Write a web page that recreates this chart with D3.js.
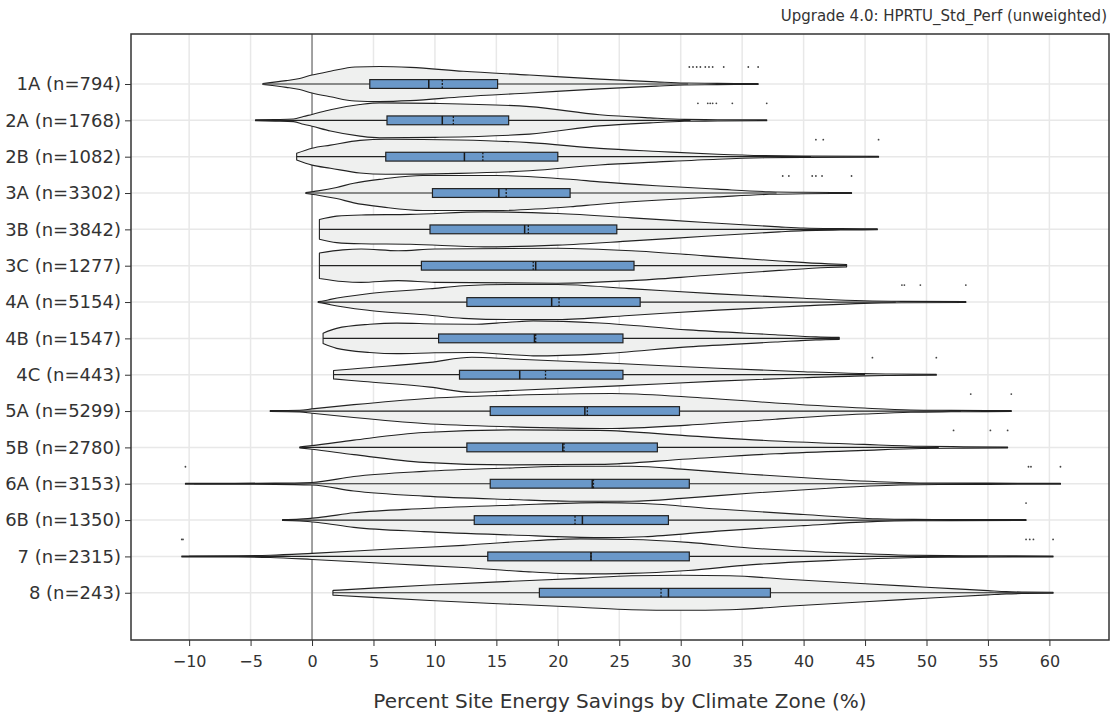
<!DOCTYPE html>
<html>
<head>
<meta charset="utf-8">
<script src="https://cdn.jsdelivr.net/npm/d3@7"></script>
<style>
  html, body { margin: 0; padding: 0; background: #fff; }
  svg { display: block; font-family: "DejaVu Sans", Verdana, sans-serif; }
</style>
</head>
<body>
<svg id="chart" width="1112" height="715"></svg>
<script>
// Climate zones, top to bottom
const categories = ["1A (n=794)", "2A (n=1768)", "2B (n=1082)", "3A (n=3302)", "3B (n=3842)",
  "3C (n=1277)", "4A (n=5154)", "4B (n=1547)", "4C (n=443)", "5A (n=5299)", "5B (n=2780)",
  "6A (n=3153)", "6B (n=1350)", "7 (n=2315)", "8 (n=243)"];

// Box statistics (percent site energy savings)
const q1Values     = [4.7, 6.1, 6.0, 9.8, 9.6, 8.9, 12.6, 10.3, 12.0, 14.5, 12.6, 14.5, 13.2, 14.3, 18.5];
const medianValues = [9.5, 10.6, 12.4, 15.2, 17.3, 18.2, 19.5, 18.1, 16.9, 22.2, 20.4, 22.8, 22.0, 22.7, 29.0];
const meanValues   = [10.6, 11.5, 13.9, 15.8, 17.6, 18.0, 20.1, 18.2, 19.0, 22.4, 20.5, 22.9, 21.4, 22.7, 28.4];
const q3Values     = [15.1, 16.0, 20.0, 21.0, 24.8, 26.2, 26.7, 25.3, 25.3, 29.9, 28.1, 30.7, 29.0, 30.7, 37.3];
const whiskerLow   = [-3.9, -4.6, -1.25, -0.5, 0.6, 0.6, 0.5, 0.9, 1.75, -3.4, -1.0, -9.6, -2.4, -10.0, 1.7];
const whiskerHigh  = [30.6, 30.8, 40.6, 37.8, 46.0, 43.5, 47.5, 42.9, 45.0, 52.8, 51.0, 54.8, 52.5, 55.0, 60.3];

// Outlying samples per zone
const outliers = [
  [30.7, 31.0, 31.3, 31.6, 32.0, 32.3, 32.6, 33.5, 35.5, 36.3],
  [31.4, 32.2, 32.4, 32.6, 32.9, 34.2, 37.0],
  [41.0, 41.6, 46.1],
  [38.3, 38.8, 40.7, 41.0, 41.5, 43.9],
  [],
  [],
  [48.0, 48.2, 49.5, 53.2],
  [],
  [45.6, 50.8],
  [53.6, 56.9],
  [52.2, 55.2, 56.6],
  [-10.3, 58.3, 58.5, 60.9],
  [58.1],
  [-10.6, -10.5, 58.1, 58.4, 58.7, 60.3],
  []
];

// Kernel density outline per zone: [savings %, relative half-width]
const densityProfiles = [
  [[-4.0,0],[-2.1,0.17],[-1,0.3],[0,0.5],[1.5,0.72],[3.5,0.97],[5.5,1],[8,0.95],[12.3,0.72],[17.7,0.5],[23.4,0.26],[28,0.1],[30.3,0.03],[33,0.012],[36.3,0]],
  [[-4.6,0],[-3,0.02],[-1.5,0.05],[-0.7,0.2],[0,0.32],[1.5,0.6],[3.9,0.9],[5.5,1],[10,0.97],[17.7,0.78],[23.4,0.3],[27.5,0.12],[30.3,0.03],[33,0.012],[37.0,0]],
  [[-1.25,0.17],[0,0.47],[1.5,0.65],[3.9,0.93],[6,1],[12,0.95],[17.7,0.8],[23.4,0.46],[28.2,0.28],[33,0.12],[36.8,0.04],[40,0.015],[46.1,0]],
  [[-0.5,0],[0.5,0.1],[2,0.3],[3.4,0.55],[5.8,0.8],[9,1],[15,1],[21,0.78],[23.4,0.63],[28,0.4],[33,0.2],[37.2,0.05],[40,0.015],[43.9,0]],
  [[0.6,0.55],[2,0.75],[4,0.82],[8,0.85],[14,1.0],[20,0.9],[26,0.65],[32,0.38],[38,0.12],[40,0.05],[43,0.015],[46.0,0]],
  [[0.6,0.72],[2.5,0.9],[4,0.95],[7,0.85],[10,0.95],[20,1.0],[26,0.85],[32,0.55],[38,0.25],[42,0.08],[43.5,0.04]],
  [[0.5,0],[1,0.05],[1.5,0.13],[4.7,0.47],[9.6,0.75],[12.3,0.93],[16,1],[20,1],[25.8,0.76],[33,0.45],[40,0.2],[44.9,0.05],[48,0.015],[53.2,0]],
  [[0.9,0.28],[2,0.56],[4.7,0.8],[6.9,0.87],[10,0.82],[13,0.8],[16,0.92],[18,1.0],[23.4,0.88],[30.6,0.47],[37.7,0.19],[41,0.06],[42.9,0.03]],
  [[1.75,0.22],[4.2,0.37],[9.6,0.7],[13,1.0],[16.3,0.9],[24.9,0.63],[33,0.35],[40,0.15],[44.9,0.04],[47,0.015],[50.8,0]],
  [[-3.4,0],[-1,0.02],[0,0.1],[3.4,0.35],[9.1,0.7],[16.3,0.9],[24.4,1.0],[30.6,0.8],[37.7,0.45],[44.9,0.15],[48.7,0.04],[52,0.015],[56.9,0]],
  [[-1.0,0],[0,0.08],[3.4,0.4],[9.1,0.85],[16.3,1.0],[23.4,0.97],[30.6,0.65],[37.7,0.35],[44.9,0.15],[49.6,0.04],[53,0.015],[56.6,0]],
  [[-10.3,0],[-3,0.01],[0,0.05],[3.4,0.4],[9.1,0.7],[16.3,0.9],[21,1],[26,1],[30.6,0.8],[35.6,0.53],[41.7,0.25],[47.8,0.05],[51,0.015],[55,0.008],[60.9,0]],
  [[-2.4,0],[-1,0.03],[0.5,0.12],[3.4,0.4],[9.1,0.65],[16.3,0.85],[23.4,1],[27,0.95],[33,0.62],[40,0.3],[46,0.05],[49,0.015],[52,0.008],[58.1,0]],
  [[-10.6,0],[-6,0.01],[-3.4,0.04],[0,0.15],[6.8,0.42],[12.3,0.62],[17,0.85],[21.8,1],[26,0.97],[30.6,0.8],[35.6,0.47],[42,0.22],[49.2,0.04],[53,0.015],[60.3,0]],
  [[1.7,0.11],[2.2,0.13],[9.6,0.43],[16.3,0.65],[21.8,0.82],[26,0.97],[30,1.0],[34,0.97],[39,0.75],[45,0.5],[50,0.3],[55,0.1],[56.5,0.04],[58,0.015],[60.3,0]]
];

const xTicks = [-10, -5, 0, 5, 10, 15, 20, 25, 30, 35, 40, 45, 50, 55, 60];

const plot = { left: 131, right: 1109, top: 34, bottom: 640 };
const svg = d3.select("#chart");

const x = d3.scaleLinear().domain([-14.73, 64.85]).range([plot.left, plot.right]);
const y = d3.scaleLinear().domain([-1.376, 15.30]).range([plot.top, plot.bottom]);
const halfWidth = d3.scaleLinear().domain([0, 1]).range([0.45, 17.5]);
const boxHalf = 4.4;

// Grid
const grid = svg.append("g");
grid.selectAll("line.v").data(xTicks).join("line")
  .attr("x1", d => x(d)).attr("x2", d => x(d))
  .attr("y1", plot.top).attr("y2", plot.bottom)
  .attr("stroke", "#e8e8e8").attr("stroke-width", 1.5);
grid.selectAll("line.h").data(categories).join("line")
  .attr("x1", plot.left).attr("x2", plot.right)
  .attr("y1", (d, i) => y(i)).attr("y2", (d, i) => y(i))
  .attr("stroke", "#e8e8e8").attr("stroke-width", 1.5);

// Zero reference line
svg.append("line")
  .attr("x1", x(0)).attr("x2", x(0)).attr("y1", plot.top).attr("y2", plot.bottom)
  .attr("stroke", "#555").attr("stroke-width", 1);

// Violins
const area = d3.area()
  .curve(d3.curveMonotoneX)
  .x(d => x(d[0]));

const zones = svg.append("g");
categories.forEach((cat, i) => {
  const cy = y(i);
  const g = zones.append("g");

  g.append("path")
    .datum(densityProfiles[i])
    .attr("d", area.y0(d => cy - halfWidth(d[1])).y1(d => cy + halfWidth(d[1])))
    .attr("fill", "#eff0ef")
    .attr("stroke", "#222")
    .attr("stroke-width", 1.1)
    .attr("stroke-linejoin", "round");

  // Whiskers
  g.append("line")
    .attr("x1", x(whiskerLow[i])).attr("x2", x(whiskerHigh[i]))
    .attr("y1", cy).attr("y2", cy)
    .attr("stroke", "#222").attr("stroke-width", 1.2);

  // Box
  g.append("rect")
    .attr("x", x(q1Values[i])).attr("width", x(q3Values[i]) - x(q1Values[i]))
    .attr("y", cy - boxHalf).attr("height", boxHalf * 2)
    .attr("fill", "#6a98c9").attr("stroke", "#222").attr("stroke-width", 1.2);

  // Median
  g.append("line")
    .attr("x1", x(medianValues[i])).attr("x2", x(medianValues[i]))
    .attr("y1", cy - boxHalf).attr("y2", cy + boxHalf)
    .attr("stroke", "#1a1a1a").attr("stroke-width", 1.5);

  // Mean
  g.append("line")
    .attr("x1", x(meanValues[i])).attr("x2", x(meanValues[i]))
    .attr("y1", cy - boxHalf).attr("y2", cy + boxHalf)
    .attr("stroke", "#1a1a1a").attr("stroke-width", 1.3)
    .attr("stroke-dasharray", "2,1.5");

  // Outlying points
  g.selectAll("circle").data(outliers[i]).join("circle")
    .attr("cx", d => x(d)).attr("cy", cy - 17)
    .attr("r", 0.9).attr("fill", "#444");
});

// Frame
svg.append("rect")
  .attr("x", plot.left).attr("y", plot.top)
  .attr("width", plot.right - plot.left).attr("height", plot.bottom - plot.top)
  .attr("fill", "none").attr("stroke", "#333").attr("stroke-width", 1.5);

// X axis
const xAxis = d3.axisBottom(x).tickValues(xTicks).tickSize(6).tickPadding(10);
const gx = svg.append("g").attr("transform", `translate(0,${plot.bottom})`).call(xAxis);
gx.select(".domain").remove();
gx.selectAll(".tick line").attr("stroke", "#333");
gx.selectAll(".tick text").attr("font-family", "DejaVu Sans").attr("font-size", 16).attr("fill", "#333");

// Y axis with category labels
const yAxis = d3.axisLeft(y).tickValues(d3.range(categories.length))
  .tickFormat(i => categories[i]).tickSize(6).tickPadding(4);
const gy = svg.append("g").attr("transform", `translate(${plot.left},0)`).call(yAxis);
gy.select(".domain").remove();
gy.selectAll(".tick line").attr("stroke", "#333");
gy.selectAll(".tick text").attr("font-family", "DejaVu Sans").attr("font-size", 18).attr("fill", "#333");

// Titles
svg.append("text")
  .attr("x", 1107).attr("y", 21).attr("text-anchor", "end")
  .attr("font-size", 15).attr("fill", "#333")
  .text("Upgrade 4.0: HPRTU_Std_Perf (unweighted)");

svg.append("text")
  .attr("x", (plot.left + plot.right) / 2).attr("y", 708).attr("text-anchor", "middle")
  .attr("font-size", 20).attr("fill", "#333")
  .text("Percent Site Energy Savings by Climate Zone (%)");
</script>
</body>
</html>
